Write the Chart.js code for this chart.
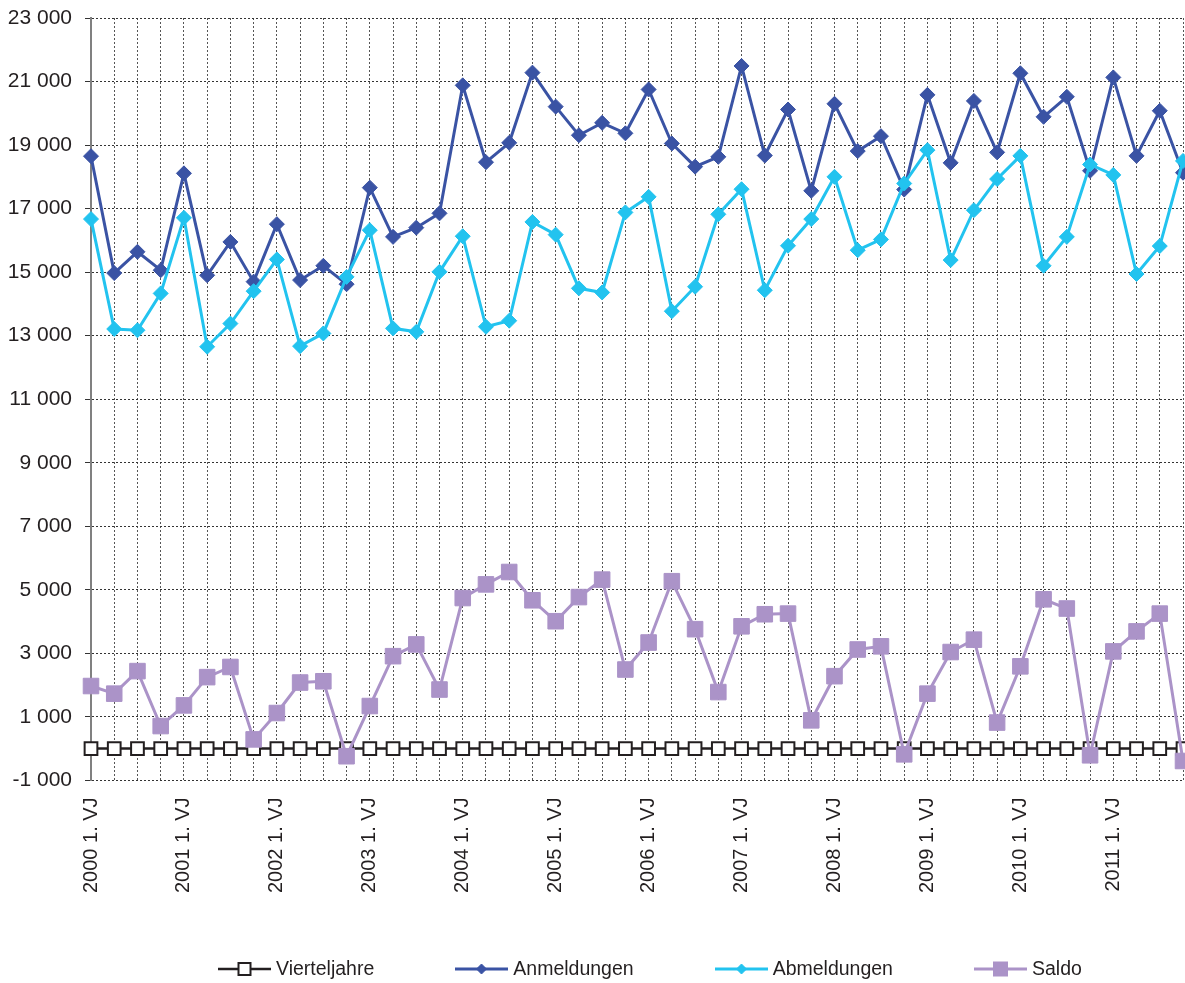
<!DOCTYPE html>
<html>
<head>
<meta charset="utf-8">
<script src="https://cdn.jsdelivr.net/npm/chart.js@4.4.0/dist/chart.umd.min.js"></script>
<style>
    body { margin: 0; background: #fff; }
    #wrap { position: relative; width: 1185px; height: 983px; overflow: hidden; }
    #legend {
        position: absolute; left: 218px; top: 957px;
        display: flex; align-items: center;
        font: 19.5px 'Liberation Sans', Arial, sans-serif; color: #231f20;
    }
    .item { display: flex; align-items: center; margin-right: 81px; }
    .item canvas { margin-right: 5px; }
</style>
</head>
<body>
<div id="wrap">
    <canvas id="mainChart" width="1185" height="983"></canvas>
    <div id="legend"></div>
</div>
<script>
/*
    Data (Anmeldungen / Abmeldungen je Vierteljahr, 2000 - 2011)
*/
var years = [2000, 2001, 2002, 2003, 2004, 2005, 2006, 2007, 2008, 2009, 2010, 2011];
var quarters = ['1. VJ', '2. VJ', '3. VJ', '4. VJ'];

var vierteljahre = [0, 0, 0, 0, 0, 0, 0, 0, 0, 0, 0, 0,
                    0, 0, 0, 0, 0, 0, 0, 0, 0, 0, 0, 0,
                    0, 0, 0, 0, 0, 0, 0, 0, 0, 0, 0, 0,
                    0, 0, 0, 0, 0, 0, 0, 0, 0, 0, 0, 0];

var anmeldungen = [18650, 14970, 15640, 15060, 18110, 14900, 15950, 14700,
                   16510, 14750, 15200, 14620, 17660, 16110, 16400, 16850,
                   20880, 18460, 19070, 21280, 20210, 19310, 19700, 19370,
                   20750, 19050, 18320, 18630, 21490, 18670, 20120, 17560,
                   20300, 18810, 19280, 17600, 20580, 18440, 20390, 18770,
                   21260, 19890, 20520, 18190, 21130, 18660, 20080, 18130];

var abmeldungen = [16670, 13210, 13170, 14330, 16710, 12650, 13380, 14400,
                   15400, 12670, 13070, 14850, 16320, 13230, 13120, 15010,
                   16130, 13280, 13470, 16580, 16180, 14490, 14360, 16880,
                   17370, 13770, 14540, 16820, 17610, 14430, 15830, 16670,
                   18000, 15690, 16030, 17790, 18840, 15380, 16950, 17930,
                   18660, 15200, 16110, 18390, 18060, 14940, 15820, 18500];

var saldo = [1970, 1730, 2440, 710, 1360, 2250, 2570, 290,
             1120, 2080, 2120, -240, 1340, 2910, 3280, 1860,
             4740, 5170, 5560, 4670, 4010, 4770, 5320, 2490,
             3340, 5270, 3760, 1780, 3850, 4230, 4250, 890,
             2280, 3120, 3220, -180, 1730, 3040, 3430, 820,
             2590, 4700, 4410, -210, 3060, 3690, 4250, -390];

var FONT = "'Liberation Sans', Arial, sans-serif";
var TEXT = '#231f20';

function makeLabels(){
    var labels = [];
    for(var i = 0; i < years.length; i++){
        for(var q = 0; q < quarters.length; q++){
            labels.push(years[i] + ' ' + quarters[q]);
        }
    }
    return labels;
}

function fmt(value){
    var s = Math.abs(value).toString().replace(/\B(?=(\d{3})+(?!\d))/g, ' ');
    return (value < 0 ? '-' : '') + s;
}

var series = [
    { label: 'Vierteljahre', data: vierteljahre, color: '#231f20', style: 'rect', radius: 9, fill: '#ffffff', bw: 2, lw: 2.5, order: 4 },
    { label: 'Anmeldungen', data: anmeldungen, color: '#3a53a4', style: 'rectRot', radius: 7.5, fill: '#3a53a4', bw: 1, lw: 3, order: 3 },
    { label: 'Abmeldungen', data: abmeldungen, color: '#22c3ef', style: 'rectRot', radius: 7.5, fill: '#22c3ef', bw: 1, lw: 3, order: 2 },
    { label: 'Saldo', data: saldo, color: '#ab93c8', style: 'rect', radius: 11, fill: '#ab93c8', bw: 1, lw: 3, order: 1 },
];

function drawChart(chartID){
    var ctx = document.getElementById(chartID);

    var datasets = series.map(function(s){
        return {
            label: s.label,
            data: s.data,
            borderColor: s.color,
            borderWidth: s.lw,
            backgroundColor: s.fill,
            pointStyle: s.style,
            pointRadius: s.radius,
            pointBackgroundColor: s.fill,
            pointBorderColor: s.color,
            pointBorderWidth: s.bw,
            order: s.order,
            clip: false,
        };
    });

    var config = {
        type: 'line',
        data: {
            labels: makeLabels(),
            datasets: datasets
        },
        options: {
            responsive: false,
            animation: false,
            elements: {
                line: { tension: 0 }
            },
            layout: {
                autoPadding: false,
                padding: { top: 18, left: 8, right: 2, bottom: 73 }
            },
            plugins: {
                legend: { display: false },
                tooltip: { enabled: false }
            },
            scales: {
                x: {
                    grid: {
                        color: '#555555',
                        lineWidth: 1,
                        drawTicks: false,
                        tickLength: 0
                    },
                    border: { display: false, dash: [2, 2] },
                    ticks: {
                        autoSkip: false,
                        maxRotation: 90,
                        minRotation: 90,
                        padding: 17,
                        color: TEXT,
                        font: { family: FONT, size: 20 },
                        callback: function(value, index){
                            return index % 4 === 0 ? this.getLabelForValue(value) : '';
                        }
                    },
                    afterFit: function(scale){
                        scale.paddingLeft = 0;
                        scale.paddingRight = 0;
                    }
                },
                y: {
                    min: -1000,
                    max: 23000,
                    grid: {
                        color: '#333333',
                        lineWidth: 1,
                        tickLength: 6
                    },
                    border: { display: true, color: '#808080', width: 2, dash: [2, 2] },
                    ticks: {
                        stepSize: 2000,
                        padding: 13,
                        color: TEXT,
                        font: { family: FONT, size: 21 },
                        callback: fmt
                    },
                    afterFit: function(scale){
                        scale.width = 83;
                        scale.paddingTop = 0;
                        scale.paddingBottom = 0;
                    }
                }
            }
        }
    };
    new Chart(ctx, config);
}

function drawLegend(){
    var box = document.getElementById('legend');
    series.forEach(function(s){
        var item = document.createElement('div');
        item.className = 'item';
        var icon = document.createElement('canvas');
        icon.width = 53; icon.height = 20;
        var c = icon.getContext('2d');
        c.strokeStyle = s.color;
        c.lineWidth = s.lw;
        c.beginPath(); c.moveTo(0, 10); c.lineTo(53, 10); c.stroke();
        c.fillStyle = s.fill;
        c.lineWidth = s.bw;
        if(s.style === 'rectRot'){
            c.beginPath();
            c.moveTo(26.5, 5); c.lineTo(31.5, 10); c.lineTo(26.5, 15); c.lineTo(21.5, 10);
            c.closePath(); c.fill(); c.stroke();
        } else {
            var h = s.label === 'Saldo' ? 7 : 6;
            c.fillRect(26.5 - h, 10 - h, 2 * h, 2 * h);
            c.strokeRect(26.5 - h, 10 - h, 2 * h, 2 * h);
        }
        var txt = document.createElement('span');
        txt.textContent = s.label;
        item.appendChild(icon);
        item.appendChild(txt);
        box.appendChild(item);
    });
}

drawChart('mainChart');
drawLegend();
</script>
</body>
</html>
